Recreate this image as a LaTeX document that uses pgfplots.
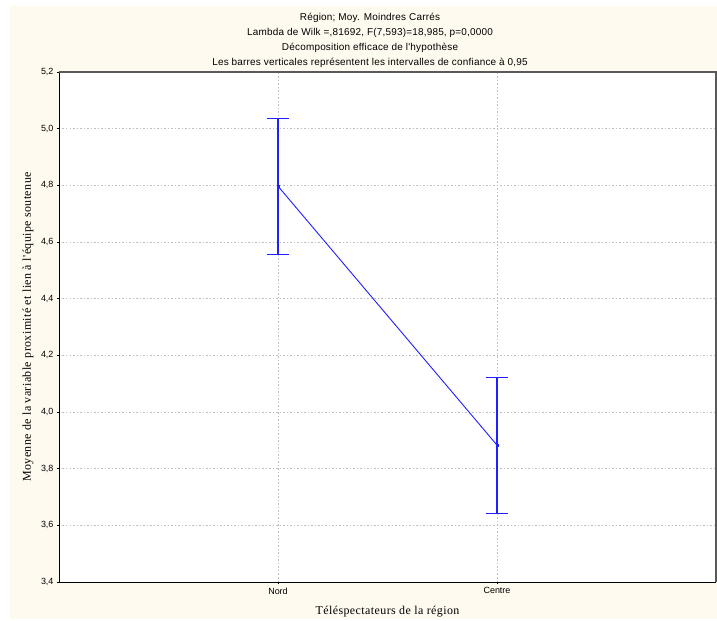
\documentclass[border=0pt]{standalone}
\usepackage{pgfplots}
\pgfplotsset{compat=1.18}
\usepackage{fontspec}
\setmainfont{Liberation Serif}
\newfontfamily\arial{Liberation Sans}
\newfontfamily\arialspaced[LetterSpace=2]{Liberation Sans}
\newfontfamily\timesspaced[LetterSpace=3.5]{Liberation Serif}
\definecolor{cream}{HTML}{FFFAF0}
\definecolor{plotblue}{HTML}{2020FF}

\begin{document}
\begin{tikzpicture}[x=1bp,y=1bp]
  % page background: white margin, cream panel
  \fill[white] (-59,-37) rectangle (658,582);
  \fill[cream] (-49,-37) rectangle (658,576);
  \begin{axis}[
      scale only axis,
      width=657bp, height=510bp,
      at={(0,0)}, anchor=south west,
      axis background/.style={fill=white},
      xmin=0, xmax=3,
      ymin=3.4, ymax=5.2,
      xtick={1,2}, xticklabels={Nord,Centre},
      ytick={3.4,3.6,...,5.21},
      grid=major,
      major grid style={draw=black!25, dash pattern=on 1.5bp off 2bp, line width=0.8bp},
      tick align=outside,
      major tick length=2bp,
      tick style={black, line width=0.6bp},
      axis line style={line width=0.9bp},
      axis x line*=bottom, axis y line*=left,
      /pgf/number format/.cd, use comma, fixed, fixed zerofill, precision=1,
      assume math mode=true,
      /pgfplots/.cd,
      tick label style={font=\arial\fontsize{9}{10}\selectfont},
      title={Région; Moy. Moindres Carrés\\Lambda de Wilk =,81692, F(7,593)=18,985, p=0,0000\\Décomposition efficace de l'hypothèse\\Les barres verticales représentent les intervalles de confiance à 0,95},
      title style={at={(axis description cs:0.4734,1.05)}, anchor=center, align=center,
        font=\arialspaced\fontsize{10}{15}\selectfont},
      xlabel={Téléspectateurs de la région},
      ylabel={Moyenne de la variable proximité et lien à l'équipe soutenue},
      every axis x label/.style={at={(axis description cs:0.5,-0.0588)}, anchor=center,
        font=\timesspaced\fontsize{12}{13}\selectfont},
      every axis y label/.style={at={(axis description cs:-0.0472,0.5)}, anchor=center, rotate=90,
        font=\timesspaced\fontsize{12}{13}\selectfont},
      clip=false,
    ]
    % top and right frame lines (darker grey, heavier)
    \draw[black!65, line width=1.6bp] (rel axis cs:0,1) -- (rel axis cs:1,1) -- (rel axis cs:1,0);
    \addplot[plotblue, line width=0.9bp, mark=square*, mark size=1bp,
      error bars/.cd, y dir=both, y explicit,
      error bar style={line width=1.1bp, plotblue},
      error mark options={rotate=90, mark size=11bp, line width=1.1bp, plotblue}]
      coordinates {
        (1, 4.797) +- (0, 0.240)
        (2, 3.883) +- (0, 0.240)
      };
  \end{axis}
\end{tikzpicture}
\end{document}
